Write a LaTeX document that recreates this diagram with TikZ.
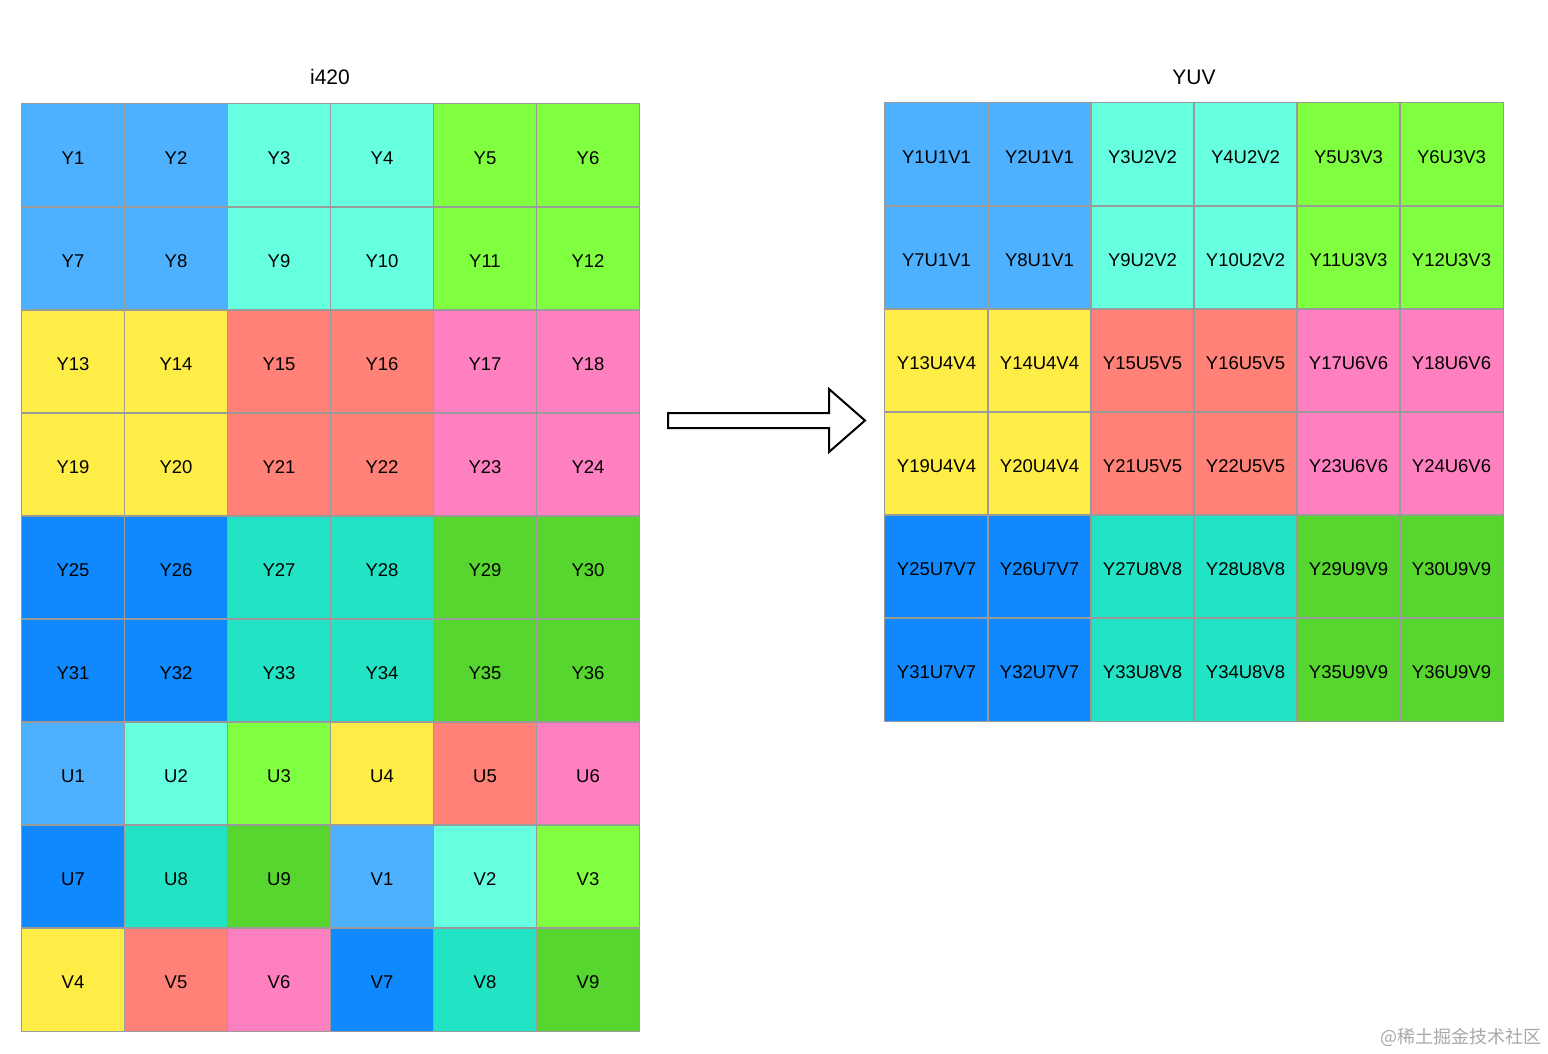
\documentclass[tikz,border=0pt]{standalone}
\usepackage{fontspec}
\setmainfont{Liberation Sans}
\newfontfamily\cjk{Noto Sans CJK SC}
\definecolor{lb}{HTML}{4DB1FF}
\definecolor{aq}{HTML}{66FFE0}
\definecolor{lm}{HTML}{80FF40}
\definecolor{ye}{HTML}{FFED47}
\definecolor{sa}{HTML}{FF8178}
\definecolor{pk}{HTML}{FF80C0}
\definecolor{db}{HTML}{1089FF}
\definecolor{te}{HTML}{22E3C4}
\definecolor{gr}{HTML}{57D62F}
\definecolor{gridgray}{HTML}{9A9A9A}
\definecolor{wm}{HTML}{A8A8A8}
\begin{document}
\begin{tikzpicture}[x=1pt,y=-1pt,
  cell/.style={minimum size=103pt, inner sep=0pt,
    font=\fontsize{18.5}{20}\selectfont, text=black, text height=18.3pt, text depth=0pt},
  gridline/.style={draw=gridgray, line width=1pt},
  title/.style={font=\fontsize{21}{23}\selectfont, inner sep=0pt, text height=16pt, text depth=0pt},
  bigarrow/.style={draw=black, line width=2pt, fill=white, line join=miter}]
\useasboundingbox (0,0) rectangle (1548,1054);
% left grid (i420)
\foreach \t/\c [count=\i from 0] in {
  Y1/lb,Y2/lb,Y3/aq,Y4/aq,Y5/lm,Y6/lm,
  Y7/lb,Y8/lb,Y9/aq,Y10/aq,Y11/lm,Y12/lm,
  Y13/ye,Y14/ye,Y15/sa,Y16/sa,Y17/pk,Y18/pk,
  Y19/ye,Y20/ye,Y21/sa,Y22/sa,Y23/pk,Y24/pk,
  Y25/db,Y26/db,Y27/te,Y28/te,Y29/gr,Y30/gr,
  Y31/db,Y32/db,Y33/te,Y34/te,Y35/gr,Y36/gr,
  U1/lb,U2/aq,U3/lm,U4/ye,U5/sa,U6/pk,
  U7/db,U8/te,U9/gr,V1/lb,V2/aq,V3/lm,
  V4/ye,V5/sa,V6/pk,V7/db,V8/te,V9/gr}{
  \pgfmathtruncatemacro\r{\i/6}
  \pgfmathtruncatemacro\cc{mod(\i,6)}
  \node[cell, fill=\c] (L-\r-\cc) at ({73+103*\cc},{155.5+103*\r}) {\t};
}
% right grid (YUV)
\foreach \t/\c [count=\i from 0] in {
  Y1U1V1/lb,Y2U1V1/lb,Y3U2V2/aq,Y4U2V2/aq,Y5U3V3/lm,Y6U3V3/lm,
  Y7U1V1/lb,Y8U1V1/lb,Y9U2V2/aq,Y10U2V2/aq,Y11U3V3/lm,Y12U3V3/lm,
  Y13U4V4/ye,Y14U4V4/ye,Y15U5V5/sa,Y16U5V5/sa,Y17U6V6/pk,Y18U6V6/pk,
  Y19U4V4/ye,Y20U4V4/ye,Y21U5V5/sa,Y22U5V5/sa,Y23U6V6/pk,Y24U6V6/pk,
  Y25U7V7/db,Y26U7V7/db,Y27U8V8/te,Y28U8V8/te,Y29U9V9/gr,Y30U9V9/gr,
  Y31U7V7/db,Y32U7V7/db,Y33U8V8/te,Y34U8V8/te,Y35U9V9/gr,Y36U9V9/gr}{
  \pgfmathtruncatemacro\r{\i/6}
  \pgfmathtruncatemacro\cc{mod(\i,6)}
  \node[cell, fill=\c] (R-\r-\cc) at ({936.5+103*\cc},{154.5+103*\r}) {\t};
}
% grid lines on top of the fills
\foreach \r in {0,...,8}{
  \foreach \cc in {0,...,5}{
    \draw[gridline] (L-\r-\cc.south west) rectangle (L-\r-\cc.north east);
  }
}
\foreach \r in {0,...,5}{
  \foreach \cc in {0,...,5}{
    \draw[gridline] (R-\r-\cc.south west) rectangle (R-\r-\cc.north east);
  }
}
% titles
\node[title] (t-left) at (330,77) {i420};
\node[title] (t-right) at (1194,77) {YUV};
% block arrow
\draw[bigarrow] (668,413) -- (829,413) -- (829,389) -- (865,420.5) -- (829,452)
  -- (829,428) -- (668,428) -- cycle;
% watermark
\node[anchor=east, text=wm, font=\cjk\fontsize{18}{20}\selectfont, inner sep=0pt] (wm) at (1542,1037) {@稀土掘金技术社区};
\end{tikzpicture}
\end{document}
